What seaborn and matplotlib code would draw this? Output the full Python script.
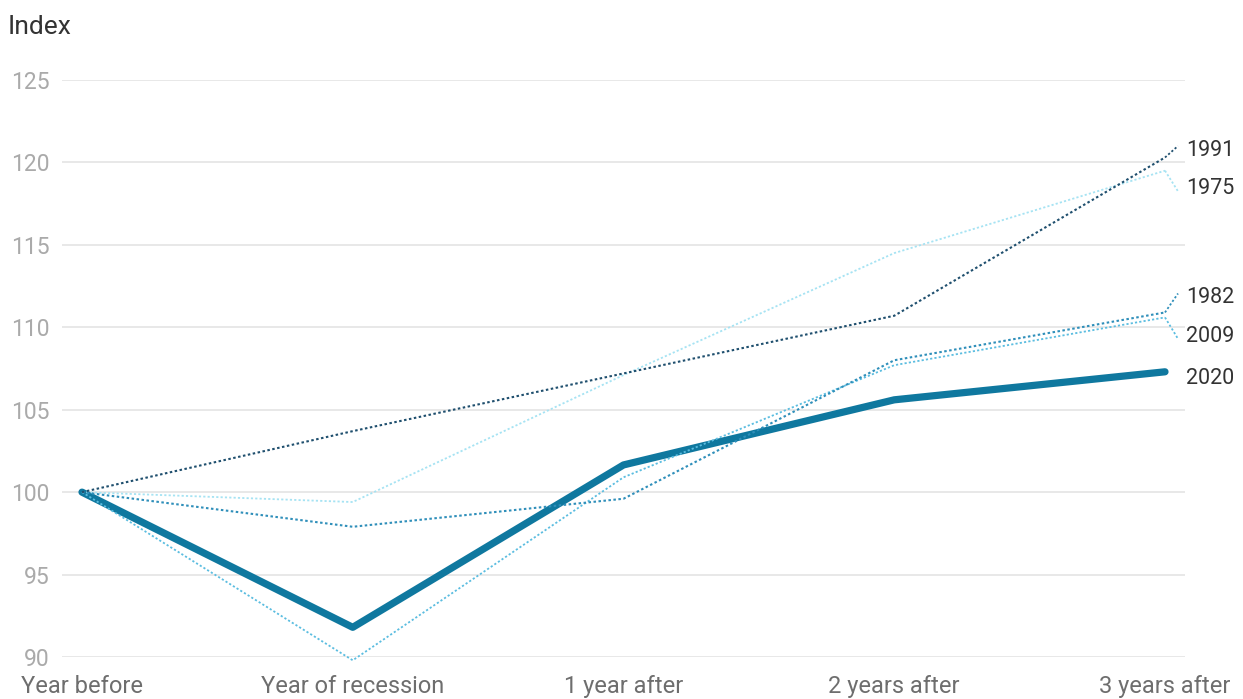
import matplotlib
matplotlib.use("Agg")
import matplotlib.pyplot as plt
import seaborn as sns
import pandas as pd

# Periods relative to the recession year
periods = ["Year before", "Year of recession", "1 year after", "2 years after", "3 years after"]

# Index values (year before recession = 100)
idx_1975 = [100, 99.4, 107.1, 114.5, 119.5]
idx_1982 = [100, 97.9, 99.6, 108.0, 110.9]
idx_1991 = [100, 103.7, 107.2, 110.7, 120.3]
idx_2009 = [100, 89.8, 100.9, 107.7, 110.6]
idx_2020 = [100, 91.8, 101.65, 105.6, 107.3]

series_names = ["2020", "1975", "2009", "1982", "1991"]
series_values = [idx_2020, idx_1975, idx_2009, idx_1982, idx_1991]

y_ticks = [90, 95, 100, 105, 110, 115, 120, 125]

# Styling
colors = {
    "2020": "#0f789f",
    "1975": "#a6e3f3",
    "2009": "#5bbde0",
    "1982": "#2f8fba",
    "1991": "#1f4f6e",
}
widths = {"2020": 5.2, "1975": 1.3, "2009": 1.3, "1982": 1.5, "1991": 1.5}
# End-label placement (label y position in axis units)
label_y = {"1991": 120.75, "1975": 118.4, "1982": 111.8, "2009": 109.45, "2020": 106.9}

sns.set_theme(style="white")
plt.rcParams["font.family"] = ["Roboto", "DejaVu Sans"]

frames = []
for name, vals in zip(series_names, series_values):
    frames.append(pd.DataFrame({"pos": range(len(periods)), "value": vals, "recession": name}))
df = pd.concat(frames, ignore_index=True)

fig = plt.figure(figsize=(12.43, 6.99), dpi=100)
ax = fig.add_axes([62 / 1243, 1 - 657 / 699, (1185 - 62) / 1243, (657 - 80) / 699])

for name in series_names:
    sub = df[df["recession"] == name]
    sns.lineplot(
        data=sub, x="pos", y="value", ax=ax,
        color=colors[name], linewidth=widths[name],
        linestyle="-" if name == "2020" else (0, (1.2, 1.2)),
        solid_capstyle="round", solid_joinstyle="round",
        zorder=3 if name == "2020" else 4, clip_on=False, legend=False,
    )

# Labels at the line ends, with short dotted leaders
x_end = len(periods) - 1
for name, vals in zip(series_names, series_values):
    y_end = vals[-1]
    ly = label_y[name]
    if name != "2020":
        ax.plot([x_end, x_end + 0.048], [y_end, ly + (0.25 if ly > y_end else -0.15)],
                color=colors[name], linewidth=1.3, linestyle=(0, (1.2, 1.2)),
                clip_on=False, zorder=4)
    ax.text(x_end + 0.078, ly, name, ha="left", va="center",
            fontsize=15.5, color="#333333")

ax.set_xlim(-20 / 270.75, x_end + 20 / 270.75)
ax.set_ylim(90, 125)
ax.set_yticks(y_ticks)
ax.set_yticklabels([str(t) for t in y_ticks])
ax.set_xticks(range(len(periods)))
ax.set_xticklabels(periods)
ax.set_xlabel("")
ax.set_ylabel("")

ax.grid(axis="y", color="#e4e4e4", linewidth=1.2)
ax.grid(axis="x", visible=False)
ax.set_axisbelow(True)
for s in ax.spines.values():
    s.set_visible(False)

ax.tick_params(axis="y", length=0, pad=9, labelsize=16.5, labelcolor="#aaaaaa")
ax.tick_params(axis="x", length=0, pad=13, labelsize=17, labelcolor="#6e6e6e")

fig.text(8 / 1243, 1 - 27 / 699, "Index", ha="left", va="center",
         fontsize=19, color="#333333")

fig.savefig("out.png", dpi=100, facecolor="white")
